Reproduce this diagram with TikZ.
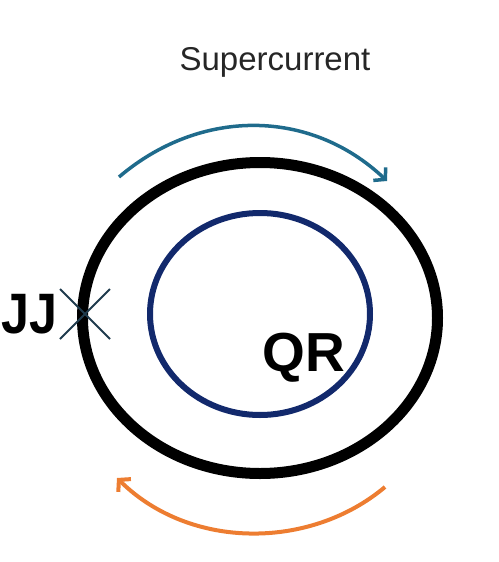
\documentclass[tikz,border=0pt]{standalone}
\usepackage{fontspec}
\setmainfont{Liberation Sans}
\usetikzlibrary{arrows.meta, positioning, shapes.geometric, shapes.misc}
\definecolor{loopnavy}{HTML}{12296C}
\definecolor{flowteal}{HTML}{1F6B8C}
\definecolor{floworange}{HTML}{ED7D31}
\definecolor{jjslate}{HTML}{1F3B4D}
\begin{document}
\begin{tikzpicture}[x=1pt, y=-1pt,
  >={Straight Barb[length=8pt, width=18pt]},
  every node/.style={inner sep=0pt, outer sep=0pt}
 ]
 \useasboundingbox (0,0) rectangle (498,562);
 \node [draw, ellipse, line width=11pt, minimum width=355pt, minimum height=311pt] (ring) at (260,318) {};
 \node [draw=loopnavy, ellipse, line width=6pt, minimum width=220pt, minimum height=202pt] (loop) at (260,314) {};
 \node [font=\fontsize{33}{38}\selectfont, text=black!85, anchor=base] (SC) at (275,70) {Supercurrent};
 \node [font=\bfseries\fontsize{55}{60}\selectfont, anchor=base] (QR) at (304,371) {QR};
 \node [draw=jjslate, line width=2pt, cross out, minimum size=50pt] (X) at (85,314) {};
 \node [font=\bfseries\fontsize{57}{60}\selectfont, left=3pt of X] (JJ) {\scalebox{0.88}[1]{JJ}};

 \coordinate (t1) at (119,177);
 \coordinate (t2) at (387,181);
 \coordinate (b1) at (385,487);
 \coordinate (b2) at (117,478);
 \draw [->, flowteal, line width=3.5pt] (t1) .. controls (200,108) and (310,108) .. (t2);
 \draw [->, floworange, line width=4pt] (b1) .. controls (310,550) and (190,550) .. (b2);
\end{tikzpicture}
\end{document}
